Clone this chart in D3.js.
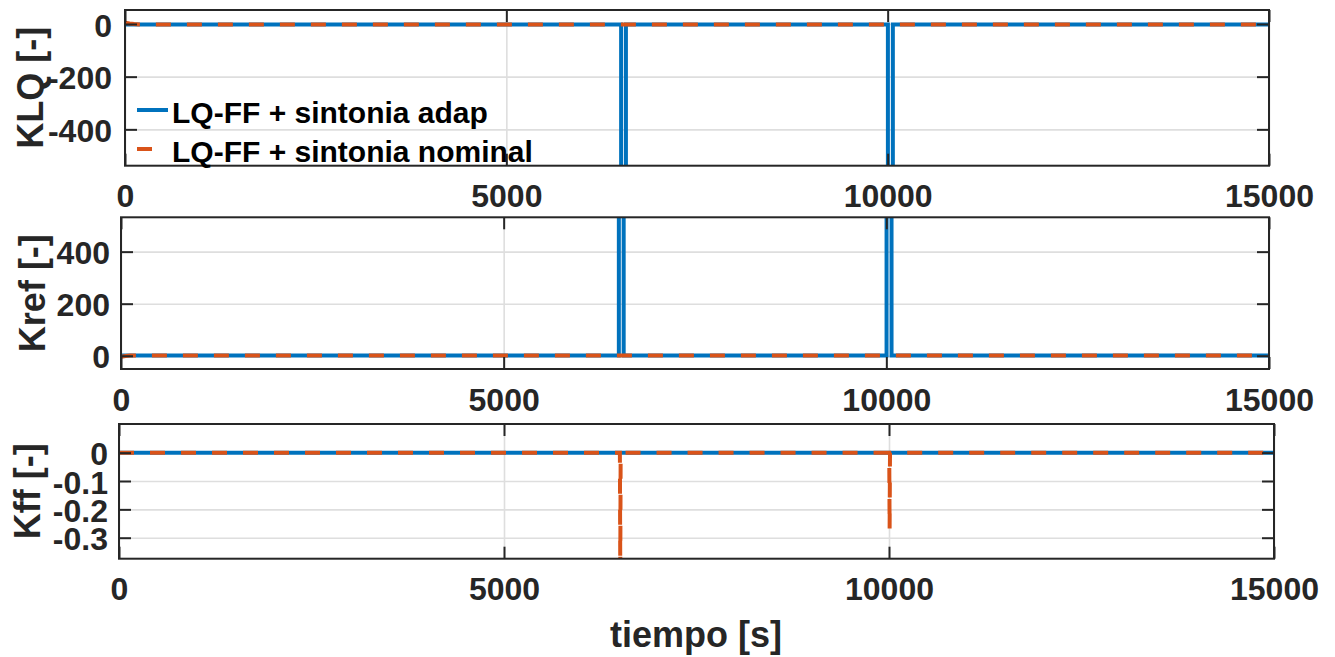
<!DOCTYPE html>
<html><head><meta charset="utf-8">
<script src="https://cdn.jsdelivr.net/npm/d3@7"></script>
<style>
html,body{margin:0;padding:0;background:#fff;}
svg{display:block;font-family:"Liberation Sans",Arial,Helvetica,sans-serif;font-weight:bold;}
</style></head><body>
<svg id="chart" width="1335" height="657"></svg>
<script>
// ---------------- data ----------------
const xTicks = [0, 5000, 10000, 15000];
const xTickLabels = ["0", "5000", "10000", "15000"];

// adaptive tuning (blue, solid)
const timeAdap = [0, 6505, 6505, 6568, 6568, 10003, 10003, 10068, 10068, 15000];
const klqAdap  = [-2, -2, -9000, -9000, -2, -2, -9000, -9000, -2, -2];
const krefAdap = [1, 1, 9000, 9000, 1, 1, 9000, 9000, 1, 1];
const kffAdap  = [0, 0, 0, 0, 0, 0, 0, 0, 0, 0];

// nominal tuning (orange, dashed)
const timeNom = [0, 60, 120, 200, 15000];
const klqNom  = [5, 2, -0.5, -2, -2];
const krefNom = [-4, -1, 1, 1, 1];
const timeKffNom = [0, 6505, 6510, 6515, 10003, 10008, 10013, 15000];
const kffNom     = [0, 0, -0.42, 0, 0, -0.27, 0, 0];

const klqTicks = [-400, -200, 0];
const klqTickLabels = ["-400", "-200", "0"];
const krefTicks = [0, 200, 400];
const krefTickLabels = ["0", "200", "400"];
const kffTicks = [-0.3, -0.2, -0.1, 0];
const kffTickLabels = ["-0.3", "-0.2", "-0.1", "0"];

const seriesNames = ["LQ-FF + sintonia adap", "LQ-FF + sintonia nominal"];
const xLabel = "tiempo [s]";

// ---------------- layout / style ----------------
const BLUE = "#0072BD", ORANGE = "#D95319", AX = "#262626", GRID = "#dedede";
const LW = 4;
const svg = d3.select("#chart");

const panels = [
  {id:"p1", left:125, right:1269, top:10, bottom:165.7, yDomain:[-538,53],
   yTicks:klqTicks, yLabels:klqTickLabels, label:"KLQ [-]", labelX:43, ypad:13,
   adap:klqAdap, nomT:timeNom, nom:klqNom, legend:true},
  {id:"p2", left:121, right:1269, top:217.3, bottom:369, yDomain:[-51,532],
   yTicks:krefTicks, yLabels:krefTickLabels, label:"Kref [-]", labelX:45, ypad:11,
   adap:krefAdap, nomT:timeNom, nom:krefNom},
  {id:"p3", left:119, right:1274, top:424, bottom:558.7, yDomain:[-0.374,0.101],
   yTicks:kffTicks, yLabels:kffTickLabels, label:"Kff [-]", labelX:40, ypad:11,
   adap:kffAdap, nomT:timeKffNom, nom:kffNom}
];

panels.forEach(p => {
  const w = p.right - p.left, h = p.bottom - p.top;
  const x = d3.scaleLinear().domain([0,15000]).range([0,w]);
  const y = d3.scaleLinear().domain(p.yDomain).range([h,0]);
  const g = svg.append("g").attr("transform", `translate(${p.left},${p.top})`);

  // grid
  const gx = g.append("g").attr("transform", `translate(0,${h})`)
    .call(d3.axisBottom(x).tickValues(xTicks).tickSize(-h).tickFormat(""));
  const gy = g.append("g")
    .call(d3.axisLeft(y).tickValues(p.yTicks).tickSize(-w).tickFormat(""));
  [gx, gy].forEach(a => {
    a.select(".domain").remove();
    a.selectAll("line").attr("stroke", GRID).attr("stroke-width", 1.6);
  });

  // clip
  svg.append("defs").append("clipPath").attr("id", "clip-"+p.id)
    .append("rect").attr("x",0).attr("y",0).attr("width",w).attr("height",h);

  const line = d3.line().x(d => x(d[0])).y(d => y(d[1]));
  const dg = g.append("g").attr("clip-path", `url(#clip-${p.id})`);
  dg.append("path").datum(timeAdap.map((t,i)=>[t,p.adap[i]]))
    .attr("d", line).attr("fill","none").attr("stroke",BLUE)
    .attr("stroke-width",LW).attr("stroke-linejoin","miter");
  dg.append("path").datum(p.nomT.map((t,i)=>[t,p.nom[i]]))
    .attr("d", line).attr("fill","none").attr("stroke",ORANGE)
    .attr("stroke-width",LW).attr("stroke-dasharray","15,16");

  // box
  g.append("rect").attr("width",w).attr("height",h).attr("fill","none")
    .attr("stroke",AX).attr("stroke-width",2);

  // ticks (inside, all sides)
  const style = a => {
    a.select(".domain").remove();
    a.selectAll("line").attr("stroke",AX).attr("stroke-width",2);
    a.selectAll("text").attr("fill",AX).style("font-size","32px")
      .style("font-family","'Liberation Sans',Arial,Helvetica,sans-serif").style("font-weight","bold");
  };
  g.append("g").attr("transform",`translate(0,${h})`)
    .call(d3.axisBottom(x).tickValues(xTicks).tickSize(-12).tickPadding(19)
      .tickFormat((d,i)=>xTickLabels[i])).call(style);
  g.append("g").call(d3.axisTop(x).tickValues(xTicks).tickSize(-12).tickFormat("")).call(style);
  const ya = g.append("g")
    .call(d3.axisLeft(y).tickValues(p.yTicks).tickSize(-12).tickPadding(p.ypad)
      .tickFormat((d,i)=>p.yLabels[i])).call(style);
  ya.selectAll("text").attr("dy","0.38em");
  g.append("g").attr("transform",`translate(${w},0)`)
    .call(d3.axisRight(y).tickValues(p.yTicks).tickSize(-12).tickFormat("")).call(style);

  // y label
  svg.append("text")
    .attr("transform", `translate(${p.labelX},${(p.top+p.bottom)/2}) rotate(-90)`)
    .attr("text-anchor","middle").attr("fill",AX).style("font-size","36px")
    .text(p.label);

  if (p.legend) {
    const lg = svg.append("g");
    lg.append("line").attr("x1",137).attr("x2",168).attr("y1",110).attr("y2",110)
      .attr("stroke",BLUE).attr("stroke-width",LW);
    lg.append("line").attr("x1",137).attr("x2",152).attr("y1",149).attr("y2",149)
      .attr("stroke",ORANGE).attr("stroke-width",LW);
    lg.append("text").attr("x",172).attr("y",123).attr("fill","#000")
      .style("font-size","30px").text(seriesNames[0]);
    lg.append("text").attr("x",172).attr("y",162).attr("fill","#000")
      .style("font-size","30px").text(seriesNames[1]);
  }
});

// x label
svg.append("text").attr("x",696).attr("y",647).attr("text-anchor","middle")
  .attr("fill",AX).style("font-size","36px").text(xLabel);
</script>
</body></html>
